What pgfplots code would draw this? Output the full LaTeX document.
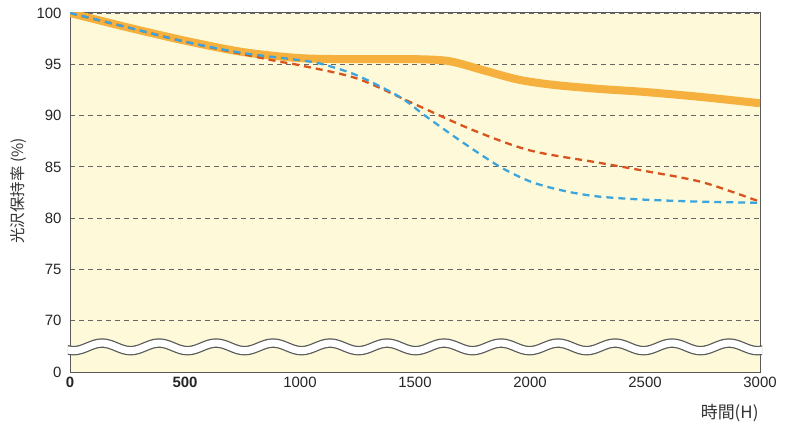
\documentclass[border=0pt]{standalone}
\usepackage{fontspec}
\setmainfont{Liberation Sans}
\newfontfamily\cjk{Noto Sans CJK JP}
\usepackage{pgfplots}
\pgfplotsset{compat=1.18}
\usetikzlibrary{calc, decorations.pathmorphing}

\definecolor{bgyellow}{HTML}{FEFAD9}
\definecolor{lineorange}{HTML}{F6B03E}
\definecolor{linered}{HTML}{D9531E}
\definecolor{lineblue}{HTML}{3DA5DD}
\definecolor{axisgray}{HTML}{5A5A5A}

\begin{document}
\begin{tikzpicture}
\begin{axis}[
    scale only axis,
    width=690bp, height=359bp,
    xmin=0, xmax=3000,
    ymin=65, ymax=100,
    xtick={0,500,...,3000},
    ytick={65,70,...,100},
    yticklabels={0,70,75,80,85,90,95,100},
    xticklabels={\textbf{0},\textbf{500},1000,1500,2000,2500,3000},
    tick style={draw=none},
    axis background/.style={fill=bgyellow},
    axis line style={draw=axisgray, line width=1bp},
    ymajorgrids,
    grid style={draw=gray!80!black, dash pattern=on 5bp off 4bp, line width=0.8bp},
    tick label style={font=\fontsize{15}{15}\selectfont, text=black!85},
    yticklabel style={xshift=-5bp},
    xticklabel style={yshift=-2bp},
]
\coordinate (SW) at (rel axis cs:0,0);
\coordinate (NE) at (rel axis cs:1,1);
\coordinate (B) at (axis cs:0,67.45);

% orange (thick)
\addplot[lineorange, line width=8bp, smooth] coordinates {
    (0,100) (250,98.6) (500,97.3) (750,96.2) (1000,95.6) (1250,95.5)
    (1500,95.5) (1650,95.3) (1800,94.4) (1950,93.5) (2100,93.0)
    (2300,92.6) (2500,92.3) (2750,91.8) (3000,91.2)
};
% red dashed
\addplot[linered, line width=2.3bp, dash pattern=on 7bp off 5bp, smooth, tension=0.5] coordinates {
    (0,100) (250,98.6) (500,97.2) (750,96.0) (900,95.3) (1000,94.9)
    (1250,93.6) (1500,91.1) (1750,88.6) (2000,86.6)
    (2300,85.4) (2500,84.6) (2750,83.5) (3000,81.6)
};
% blue dashed
\addplot[lineblue, line width=2.3bp, dash pattern=on 7bp off 5bp, smooth, tension=0.5] coordinates {
    (0,100) (250,98.6) (500,97.2) (750,96.1) (1000,95.4) (1100,95.0)
    (1250,93.9) (1435,91.8) (1543,90.0) (1700,87.5) (1870,85.0)
    (2010,83.5) (2160,82.6) (2300,82.1) (2500,81.8) (2750,81.6) (3000,81.5)
};
\end{axis}

% axis break band
\begin{scope}
\clip ($(SW)+(-2bp,0)$) rectangle ($(NE)+(2bp,0)$);
\draw[axisgray, line width=9.5bp, decorate,
      decoration={snake, segment length=57bp, amplitude=3.8bp}]
    ($(B)+(-42.75bp,0)$) -- ($(B)+(800bp,0)$);
\draw[white, line width=7bp, decorate,
      decoration={snake, segment length=57bp, amplitude=3.8bp}]
    ($(B)+(-42.75bp,0)$) -- ($(B)+(800bp,0)$);
\end{scope}

\node[rotate=90, font=\cjk\fontsize{15.5}{15.5}\selectfont, text=black!80]
    at ($(SW)+(-51bp,181bp)$) {光沢保持率 (\%)};
\node[anchor=east, font=\cjk\fontsize{17}{17}\selectfont, text=black!80]
    at ($(SW)+(692bp,-41bp)$) {時間(H)};

\pgfresetboundingbox
\path ($(SW)+(-70bp,-58bp)$) rectangle ($(SW)+(722bp,372bp)$);
\end{tikzpicture}
\end{document}
